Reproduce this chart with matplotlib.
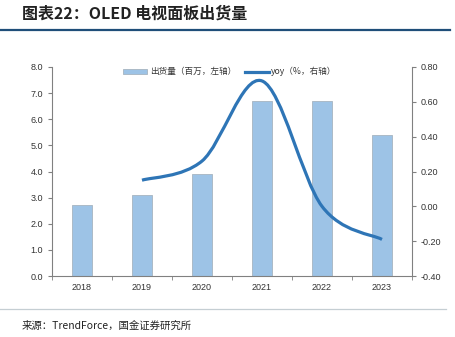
import matplotlib
matplotlib.use("Agg")
import matplotlib.pyplot as plt
import numpy as np
from matplotlib.path import Path
from matplotlib.patches import PathPatch
from matplotlib.lines import Line2D

plt.rcParams['font.family'] = ['Liberation Sans', 'Noto Sans CJK SC', 'DejaVu Sans']

years = ['2018', '2019', '2020', '2021', '2022', '2023']
shipments = [2.7, 3.1, 3.9, 6.7, 6.7, 5.4]
yoy_years = ['2019', '2020', '2021', '2022', '2023']
yoy = [0.15, 0.26, 0.72, 0.0, -0.19]
left_ticks = [0.0, 1.0, 2.0, 3.0, 4.0, 5.0, 6.0, 7.0, 8.0]
right_ticks = [-0.40, -0.20, 0.00, 0.20, 0.40, 0.60, 0.80]

title = '图表22：OLED 电视面板出货量'
source = '来源：TrendForce，国金证券研究所'
bar_label = '出货量（百万，左轴）'
line_label = 'yoy（%，右轴）'

W, H = 455, 337
fig = plt.figure(figsize=(W / 100, H / 100), dpi=100)

cjk = ['Noto Sans CJK SC', 'DejaVu Sans']
fig.text(22 / W, 1 - 14 / H, title, fontsize=11.5, fontweight='bold', family=cjk,
         va='center', ha='left', color='#222222')
fig.add_artist(Line2D([0, 450 / W], [1 - 30 / H, 1 - 30 / H], color='#1F4E79', lw=1.6))
fig.add_artist(Line2D([0, 446 / W], [1 - 309 / H, 1 - 309 / H], color='#C5CED3', lw=0.9))
fig.text(22 / W, 1 - 326 / H, source, fontsize=7.5, family=cjk, va='center', ha='left', color='#222222')

ax = fig.add_axes([52 / W, 1 - 276 / H, 360 / W, 209 / H])
x = np.arange(len(years))
bars = ax.bar(x, shipments, width=0.33, color='#9DC3E6', edgecolor='#A6B4C0', linewidth=0.6,
              label=bar_label, zorder=2)
ax.set_xlim(-0.5, len(years) - 0.5)
ax.set_ylim(0, 8)
ax.set_yticks(left_ticks)
ax.set_yticklabels([f'{v:.1f}' for v in left_ticks])
ax.set_xticks(x)
ax.set_xticklabels(years)
ax.set_xticks(np.arange(-0.5, len(years)), minor=True)
ax.tick_params(axis='x', which='major', length=0, labelsize=6.5, pad=5, colors='#333333')
ax.tick_params(axis='x', which='minor', length=3, direction='out', color='#808080')
ax.tick_params(axis='y', length=3, direction='out', labelsize=6.5, color='#808080', labelcolor='#333333')
for s in ['top', 'right']:
    ax.spines[s].set_visible(False)
for s in ['left', 'bottom']:
    ax.spines[s].set_color('#808080')
    ax.spines[s].set_linewidth(0.8)

ax2 = ax.twinx()
ax2.set_ylim(-0.4, 0.8)
ax2.set_yticks(right_ticks)
ax2.set_yticklabels([f'{v:.2f}' for v in right_ticks])
ax2.tick_params(axis='y', length=3, direction='out', labelsize=6.5, color='#808080', labelcolor='#333333')
for s in ['top', 'left', 'bottom']:
    ax2.spines[s].set_visible(False)
ax2.spines['right'].set_color('#808080')
ax2.spines['right'].set_linewidth(0.8)

# smooth line (Bezier through data points, Excel-like)
xi = np.array([years.index(y) for y in yoy_years], dtype=float)
yi = np.array(yoy, dtype=float)
verts = [(xi[0], yi[0])]
codes = [Path.MOVETO]
n = len(xi)
for i in range(n - 1):
    p0 = (xi[i - 1], yi[i - 1]) if i > 0 else (xi[i], yi[i])
    p1 = (xi[i], yi[i])
    p2 = (xi[i + 1], yi[i + 1])
    p3 = (xi[i + 2], yi[i + 2]) if i + 2 < n else (xi[i + 1], yi[i + 1])
    c1 = (p1[0] + (p2[0] - p0[0]) / 6, p1[1] + (p2[1] - p0[1]) / 6)
    c2 = (p2[0] - (p3[0] - p1[0]) / 6, p2[1] - (p3[1] - p1[1]) / 6)
    verts += [c1, c2, p2]
    codes += [Path.CURVE4] * 3
path = Path(verts, codes)
ax2.add_patch(PathPatch(path, facecolor='none', edgecolor='#2E75B6', lw=2.3, capstyle='butt', zorder=3))
line_handle = Line2D([], [], color='#2E75B6', lw=2.3, label=line_label)

leg = ax2.legend(handles=[bars, line_handle], labels=[bar_label, line_label], loc='upper left',
                 bbox_to_anchor=((123 - 52) / 360, 1.0), ncol=2, frameon=False,
                 handlelength=2.8, handleheight=0.5, columnspacing=1.0, handletextpad=0.3,
                 borderpad=0, borderaxespad=0,
                 prop={'family': cjk, 'size': 6.2})
for t in leg.get_texts():
    t.set_color('#333333')

fig.savefig('out.png', dpi=100)
